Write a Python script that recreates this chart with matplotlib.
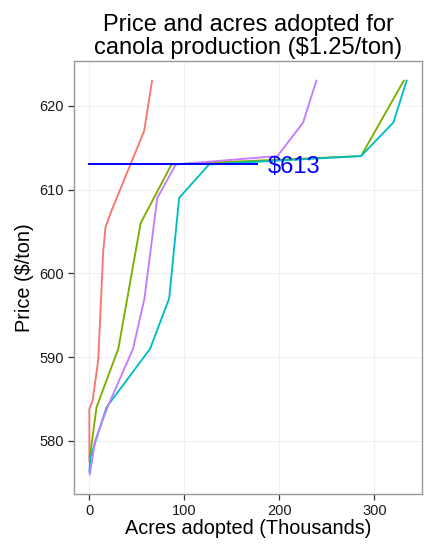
import matplotlib
matplotlib.use("Agg")
import matplotlib.pyplot as plt

plt.rcParams['font.family'] = ['Liberation Sans', 'DejaVu Sans']

# Supply curves: acres adopted (thousands) at each canola price ($/ton)
red_acres = [0, 0, 3.4, 9.3, 12.1, 14.5, 17, 23.4, 57.7, 66]
red_price = [577.5, 583.8, 584.8, 589.6, 596.4, 602.5, 605.5, 607.5, 617, 623]

green_acres = [0.5, 7.5, 30.5, 54, 86.5, 286, 306, 331]
green_price = [578, 584, 591, 606, 613, 614, 618, 623]

cyan_acres = [0, 1, 18, 64, 84, 94.5, 126, 286, 320, 334]
cyan_price = [576.3, 578, 584, 591, 597, 609, 613, 614, 618, 623]

purple_acres = [0.5, 6, 19, 46, 58, 71.5, 91, 198, 225, 239]
purple_price = [576, 580, 584, 591, 597, 609, 613, 614, 618, 623]

series = [
    (red_acres, red_price, '#F8766D'),
    (green_acres, green_price, '#7CAE00'),
    (cyan_acres, cyan_price, '#00BFC4'),
    (purple_acres, purple_price, '#C77CFF'),
]

ref_price = 613
ref_line_x = [0, 176]
ref_label = '$613'
ref_label_x = 216

x_ticks = [0, 100, 200, 300]
y_ticks = [580, 590, 600, 610, 620]

W, H = 424, 545
fig = plt.figure(figsize=(W / 100, H / 100), dpi=100)
ax = fig.add_axes([73.5 / W, 1 - 494 / H, (422.5 - 73.5) / W, (494 - 61) / H])

for xs, ys, col in series:
    ax.plot(xs, ys, color=col, lw=1.35, solid_joinstyle='round', zorder=3)

ax.plot(ref_line_x, [ref_price, ref_price], color='#0000FF', lw=1.4, zorder=4)
ax.annotate(ref_label, xy=(ref_label_x, ref_price), xytext=(0, -2),
            textcoords='offset points', color='#0000FF', fontsize=17,
            ha='center', va='center', zorder=5)

ax.set_xlim(-16.7, 350.7)
ax.set_ylim(573.65, 625.35)
ax.set_xticks(x_ticks)
ax.set_yticks(y_ticks)
ax.grid(True, color='#F0F0F0', lw=0.8, zorder=0)
ax.set_axisbelow(True)
for s in ax.spines.values():
    s.set_color('#999999')
    s.set_linewidth(1.0)
ax.tick_params(axis='both', length=4, width=0.9, color='#333333',
               labelsize=10.5, labelcolor='#1a1a1a', pad=3)

ax.set_xlabel('Acres adopted (Thousands)', fontsize=14.3, labelpad=1)
ax.set_ylabel('Price ($/ton)', fontsize=14.3, labelpad=4)
ax.set_title('Price and acres adopted for\ncanola production ($1.25/ton)',
             fontsize=17, linespacing=1.05, pad=5)

fig.savefig('out.png', dpi=100, facecolor='white')
